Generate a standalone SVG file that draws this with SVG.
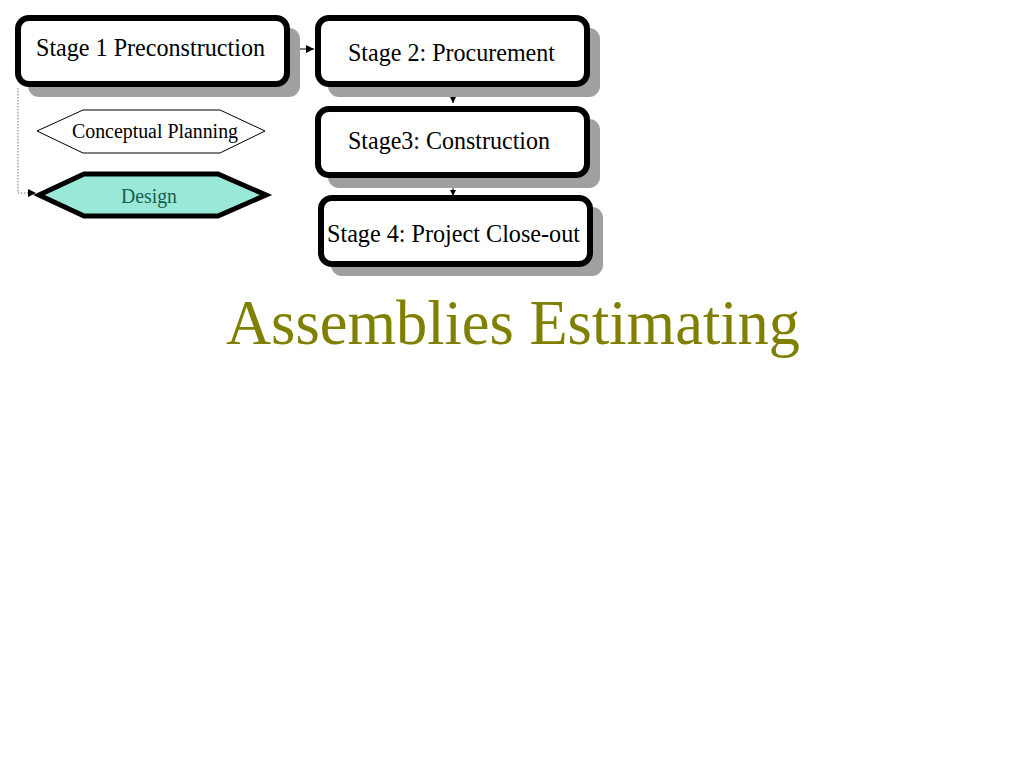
<svg xmlns="http://www.w3.org/2000/svg" width="1024" height="768" viewBox="0 0 1024 768">
<defs>
<style>
.box{fill:#fff;stroke:#000;stroke-width:6}
.shadow{fill:#a0a0a0;stroke:none}
.lbl{font-family:"Liberation Serif","Times New Roman",serif;fill:#000}
.conn{stroke:#000;stroke-width:1;fill:none}
</style>
<marker id="ah" viewBox="0 0 10 10" refX="10" refY="5" markerWidth="6" markerHeight="6" orient="auto" markerUnits="userSpaceOnUse"><path d="M0,0 L10,5 L0,10 z" fill="#000"/></marker>
<marker id="ah2" viewBox="0 0 10 10" refX="10" refY="5" markerWidth="9" markerHeight="8" orient="auto" markerUnits="userSpaceOnUse"><path d="M0,0 L10,5 L0,10 z" fill="#000"/></marker>
</defs>
<rect width="1024" height="768" fill="#fff"/>
<g id="connectors">
<line class="conn" x1="290" y1="49" x2="314" y2="49" marker-end="url(#ah2)"/>
<line class="conn" x1="453" y1="88" x2="453" y2="103" marker-end="url(#ah)"/>
<line class="conn" x1="453" y1="179" x2="453" y2="196" marker-end="url(#ah)"/>
<polyline points="18,88 18,193 36,193" fill="none" stroke="#777" stroke-width="1" stroke-dasharray="1.5,1.5" marker-end="url(#ah2)"/>
</g>
<g id="stage1">
<rect class="shadow" x="28" y="28" width="272" height="69" rx="11"/>
<rect class="box" x="18" y="18" width="269" height="66" rx="11"/>
<text class="lbl" x="36" y="56" font-size="25" textLength="229" lengthAdjust="spacingAndGlyphs">Stage 1 Preconstruction</text>
</g>
<g id="stage2">
<rect class="shadow" x="328" y="28" width="272" height="69" rx="11"/>
<rect class="box" x="318" y="18" width="269" height="66" rx="11"/>
<text class="lbl" x="348" y="61" font-size="25" textLength="207" lengthAdjust="spacingAndGlyphs">Stage 2: Procurement</text>
</g>
<g id="stage3">
<rect class="shadow" x="328" y="119" width="272" height="69" rx="11"/>
<rect class="box" x="318" y="109" width="269" height="66" rx="11"/>
<text class="lbl" x="348" y="149" font-size="25" textLength="202" lengthAdjust="spacingAndGlyphs">Stage3: Construction</text>
</g>
<g id="stage4">
<rect class="shadow" x="331" y="207" width="272" height="69" rx="11"/>
<rect class="box" x="321" y="198" width="269" height="66" rx="11"/>
<text class="lbl" x="327" y="242" font-size="25" textLength="253" lengthAdjust="spacingAndGlyphs">Stage 4: Project Close-out</text>
</g>
<g id="conceptual-planning">
<polygon points="37,131 83,110 220,110 265,131 220,153 83,153" fill="#fff" stroke="#000" stroke-width="1"/>
<text class="lbl" x="72" y="138" font-size="20" textLength="166" lengthAdjust="spacingAndGlyphs">Conceptual Planning</text>
</g>
<g id="design">
<polygon points="39,195 84,174 218,174 266,195 218,216 84,216" fill="#99e8d8" stroke="#000" stroke-width="5"/>
<text class="lbl" x="121" y="203" font-size="20" style="fill:#1a5e4c" textLength="56" lengthAdjust="spacingAndGlyphs">Design</text>
</g>
<g id="title">
<text x="226" y="344" font-family="Liberation Serif, Times New Roman, serif" font-size="64" fill="#808000" textLength="574" lengthAdjust="spacingAndGlyphs">Assemblies Estimating</text>
</g>
</svg>
